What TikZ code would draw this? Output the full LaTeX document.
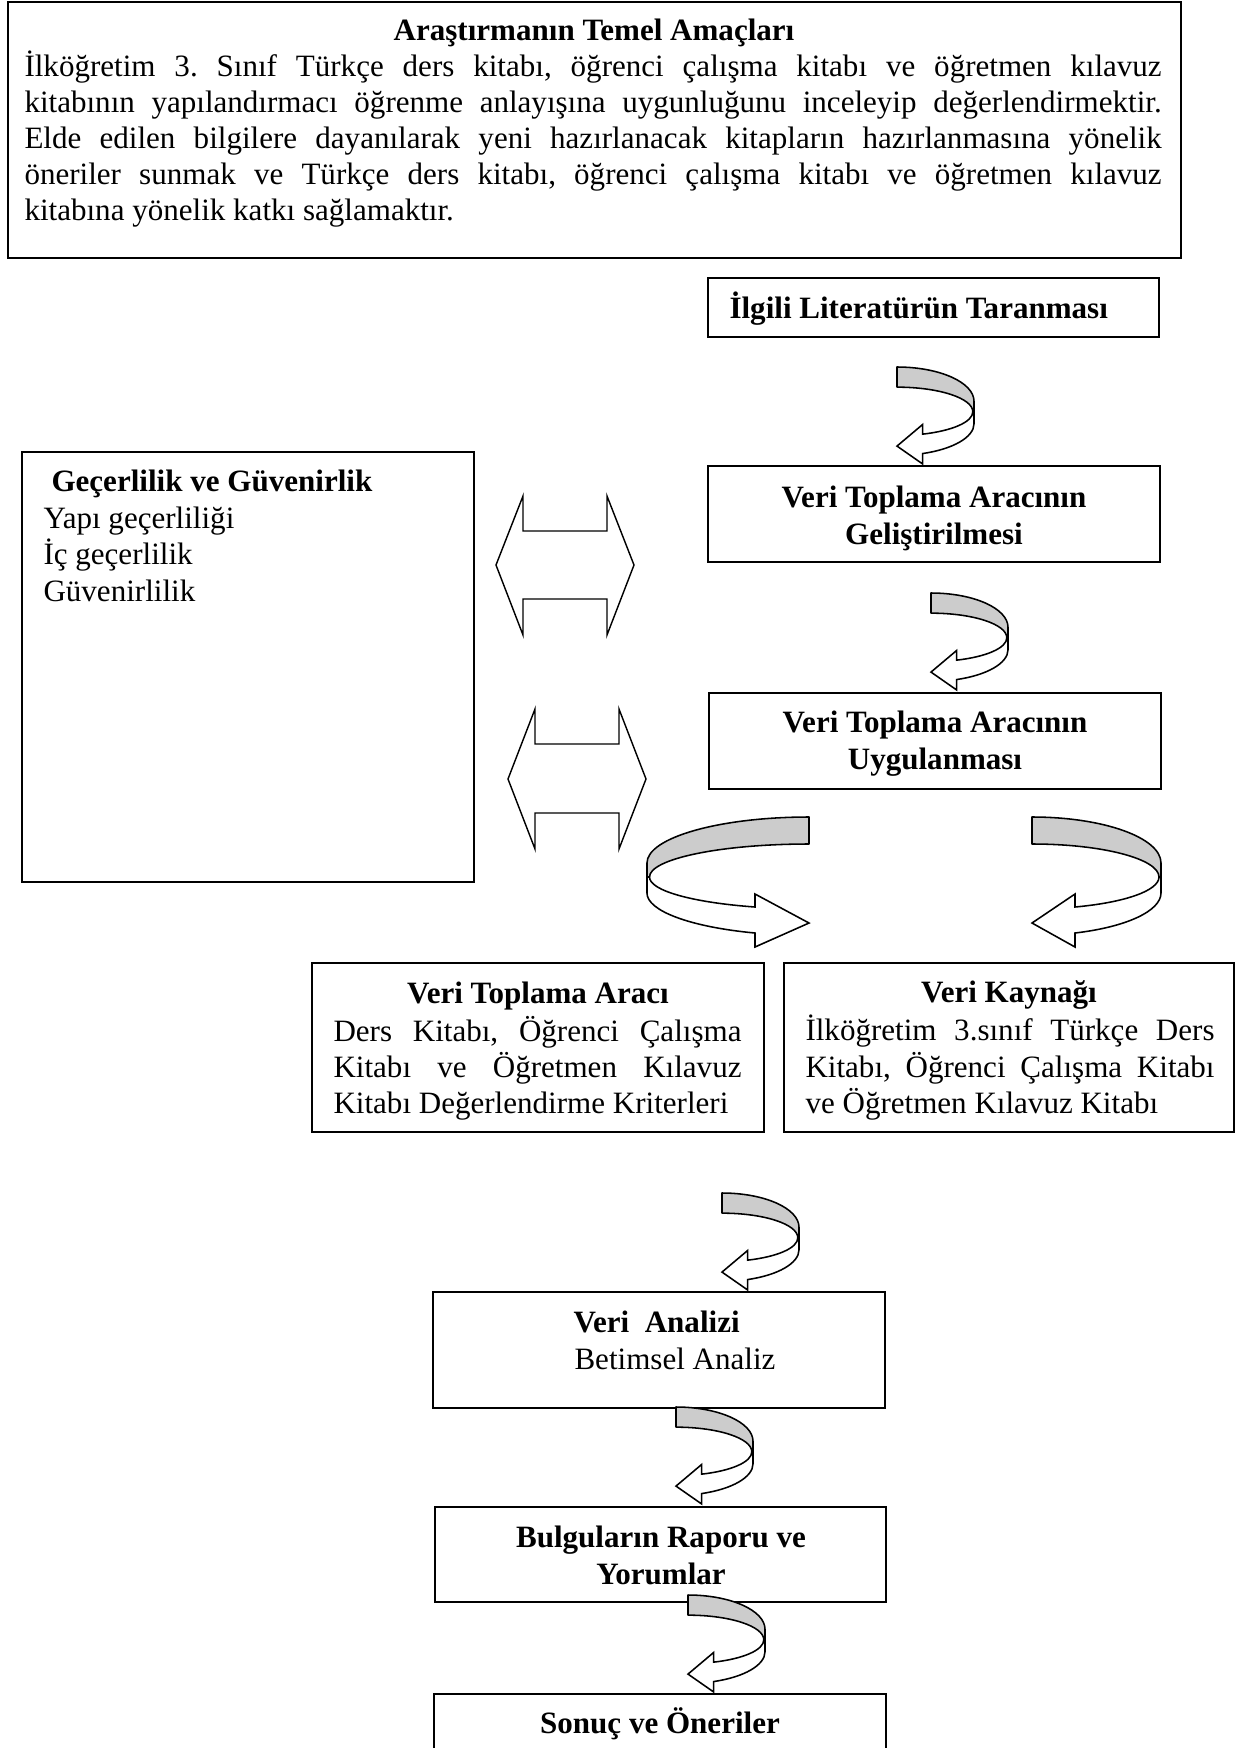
\documentclass[tikz,border=0pt]{standalone}
\usepackage{fontspec}
\setmainfont{Liberation Serif}
\usetikzlibrary{fit}
\definecolor{bandgrey}{RGB}{204,204,204}
\tikzset{
  box/.style={draw, line width=0.77pt, inner sep=0pt},
  txt/.style={inner sep=0pt, font=\fontsize{12}{14}\selectfont\frenchspacing},
  btxt/.style={inner sep=0pt, font=\fontsize{12}{14}\selectfont\bfseries\frenchspacing},
  dblarrow/.style={draw, line width=0.55pt, line join=miter},
  curvarrow/.pic={
    \filldraw[fill=bandgrey, line width=0.6pt, line join=round]
      (0,0) .. controls (71.2,0) and (129,20.6) .. (129,46) -- (129,60) -- (127,60)
      .. controls (127,41.8) and (70.1,27) .. (0,27) -- cycle;
    \filldraw[fill=white, line width=0.6pt, line join=miter]
      (129,60) -- (129,76) .. controls (129,93.9) and (94.4,110) .. (43,116)
      -- (43,130) -- (0,106) -- (43,77) -- (43,90)
      .. controls (93.4,85.4) and (127,73.5) .. (127,60) -- cycle;
  }
}
\begin{document}
\frenchspacing
\begin{tikzpicture}[x=0.3865pt, y=-0.3865pt]
\useasboundingbox (0,0) rectangle (1248,1748);
\clip (0,0) rectangle (1248,1748);

% boxes
\node[box, fit={(8,2) (1181,258)}] (aims) {};
\node[box, fit={(708,278) (1159,337)}] (lit) {};
\node[box, fit={(708,466) (1160,562)}] (gel) {};
\node[box, fit={(709,693) (1161,789)}] (uyg) {};
\node[box, fit={(22,452) (474,882)}] (gec) {};
\node[box, fit={(312,963) (764,1132)}] (vta) {};
\node[box, fit={(784,963) (1234,1132)}] (vk) {};
\node[box, fit={(433,1292) (885,1408)}] (va) {};
\node[box, fit={(435,1507) (886,1602)}] (bul) {};
\node[box, fit={(434,1694) (886,1775)}] (son) {};

% top text
\node[btxt, anchor=base] (aimsT) at (594,40.5) {Araştırmanın Temel Amaçları};
\node[txt, anchor=base west] (aims1) at (24,76.5) {\makebox[439.5pt][s]{İlköğretim 3. Sınıf Türkçe ders kitabı, öğrenci çalışma kitabı ve öğretmen kılavuz}};
\node[txt, anchor=base west] (aims2) at (24,112.5) {\makebox[439.5pt][s]{kitabının yapılandırmacı öğrenme anlayışına uygunluğunu inceleyip değerlendirmektir.}};
\node[txt, anchor=base west] (aims3) at (24,148.5) {\makebox[439.5pt][s]{Elde edilen bilgilere dayanılarak yeni hazırlanacak kitapların hazırlanmasına yönelik}};
\node[txt, anchor=base west] (aims4) at (24,184.5) {\makebox[439.5pt][s]{öneriler sunmak ve Türkçe ders kitabı, öğrenci çalışma kitabı ve öğretmen kılavuz}};
\node[txt, anchor=base west] (aims5) at (24,220.5) {kitabına yönelik katkı sağlamaktır.};

% left box text
\node[btxt, anchor=base west] (gecT) at (51,491) {Geçerlilik ve Güvenirlik};
\node[txt, anchor=base west] (gec1) at (43,528) {Yapı geçerliliği};
\node[txt, anchor=base west] (gec2) at (43,564) {İç geçerlilik};
\node[txt, anchor=base west] (gec3) at (43,601) {Güvenirlilik};

% right column text
\node[btxt, anchor=base west] (litT) at (729,318) {İlgili Literatürün Taranması};
\node[btxt, anchor=base] (gel1) at (934,507) {Veri Toplama Aracının};
\node[btxt, anchor=base] (gel2) at (934,544) {Geliştirilmesi};
\node[btxt, anchor=base] (uyg1) at (935,732) {Veri Toplama Aracının};
\node[btxt, anchor=base] (uyg2) at (935,769) {Uygulanması};

% lower boxes text
\node[btxt, anchor=base] (vtaT) at (538,1003) {Veri Toplama Aracı};
\node[txt, anchor=base west] (vta1) at (333,1041) {\makebox[157.7pt][s]{Ders Kitabı, Öğrenci Çalışma}};
\node[txt, anchor=base west] (vta2) at (333,1077) {\makebox[157.7pt][s]{Kitabı ve Öğretmen Kılavuz}};
\node[txt, anchor=base west] (vta3) at (333,1113) {Kitabı Değerlendirme Kriterleri};
\node[btxt, anchor=base] (vkT) at (1009,1002) {Veri Kaynağı};
\node[txt, anchor=base west] (vk1) at (805,1040) {\makebox[158.1pt][s]{İlköğretim 3.sınıf Türkçe Ders}};
\node[txt, anchor=base west] (vk2) at (805,1077) {\makebox[158.1pt][s]{Kitabı, Öğrenci Çalışma Kitabı}};
\node[txt, anchor=base west] (vk3) at (805,1113) {ve Öğretmen Kılavuz Kitabı};

\node[btxt, anchor=base west] (vaT) at (573,1332) {Veri~~Analizi};
\node[txt, anchor=base west] (va1) at (574,1369) {Betimsel Analiz};
\node[btxt, anchor=base] (bul1) at (661,1547) {Bulguların Raporu ve};
\node[btxt, anchor=base] (bul2) at (661,1584) {Yorumlar};
\node[btxt, anchor=base] (sonT) at (660,1733) {Sonuç ve Öneriler};

% double arrows
\draw[dblarrow] (496,565) -- (523,496) -- (523,531) -- (607,531) -- (607,496) -- (634,565)
  -- (607,635) -- (607,599) -- (523,599) -- (523,635) -- cycle;
\draw[dblarrow] (508,779) -- (535,709) -- (535,744) -- (619,744) -- (619,709) -- (646,779)
  -- (619,849) -- (619,813) -- (535,813) -- (535,849) -- cycle;

% curved arrows
\pic[xscale=0.597, yscale=0.746] (ca1) at (897,367) {curvarrow};
\pic[xscale=0.597, yscale=0.746] (ca2) at (931,593) {curvarrow};
\pic (ca3) at (1032,817) {curvarrow};
\pic[xscale=-1.256] (ca4) at (809,817) {curvarrow};
\pic[xscale=0.597, yscale=0.746] (ca5) at (722,1193) {curvarrow};
\pic[xscale=0.597, yscale=0.746] (ca6) at (676,1407) {curvarrow};
\pic[xscale=0.597, yscale=0.746] (ca7) at (688,1595) {curvarrow};
\end{tikzpicture}
\end{document}
